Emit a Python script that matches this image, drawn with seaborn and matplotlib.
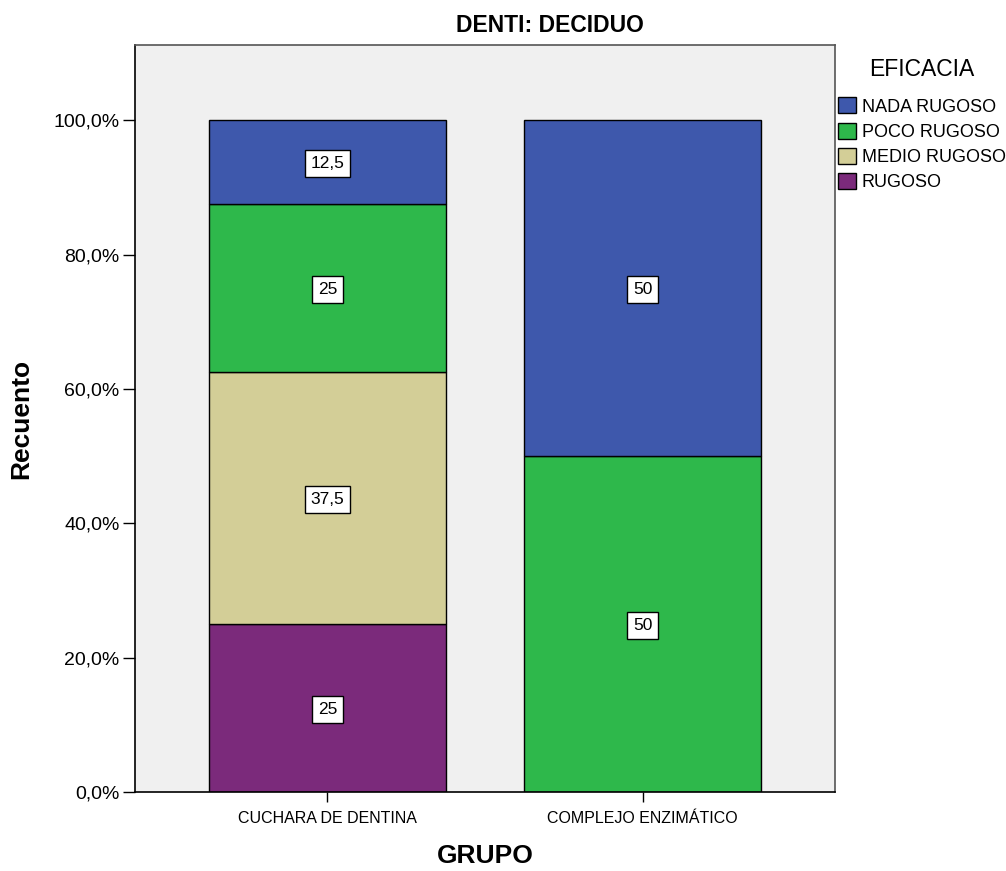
import matplotlib
matplotlib.use("Agg")
import matplotlib.pyplot as plt
import seaborn as sns
import pandas as pd

# Groups, efficacy levels and the share (%) of each level within a group
grupos = ["CUCHARA DE DENTINA", "COMPLEJO ENZIMÁTICO"]
niveles = ["NADA RUGOSO", "POCO RUGOSO", "MEDIO RUGOSO", "RUGOSO"]
cuchara = [12.5, 25, 37.5, 25]
complejo = [50, 50, 0, 0]
colores = ["#3E58AC", "#2EB84B", "#D3CE97", "#7B2A7B"]
y_ticks = [0, 20, 40, 60, 80, 100]

sns.set_style("ticks")
plt.rcParams["font.family"] = ["Liberation Sans", "DejaVu Sans"]
plt.rcParams.update({
    "text.color": "black", "axes.labelcolor": "black",
    "xtick.color": "black", "ytick.color": "black",
})

rows = []
for grupo, valores in zip(grupos, [cuchara, complejo]):
    for nivel, v in zip(niveles, valores):
        if v > 0:
            rows.append({"GRUPO": grupo, "EFICACIA": nivel, "pct": v})
df = pd.DataFrame(rows)
df["GRUPO"] = pd.Categorical(df["GRUPO"], categories=grupos)

fig = plt.figure(figsize=(10.06, 8.71), dpi=100)
ax = fig.add_axes([135 / 1006, 1 - 792 / 871, 700 / 1006, 747 / 871])
ax.set_facecolor("#F0F0F0")

sns.histplot(
    data=df, x="GRUPO", weights="pct", hue="EFICACIA", hue_order=niveles,
    palette=dict(zip(niveles, colores)), multiple="stack", discrete=True,
    shrink=0.752, edgecolor="black", linewidth=1.0, alpha=1, ax=ax,
)

# Value boxes centred in each stacked segment (bottom level first)
for i, valores in enumerate([cuchara, complejo]):
    base = 0.0
    for v in reversed(valores):
        if v > 0:
            txt = f"{v:g}".replace(".", ",")
            ax.text(i, base + v / 2, txt, ha="center", va="center_baseline",
                    fontsize=12.5,
                    bbox=dict(boxstyle="square,pad=0.34", fc="white", ec="black", lw=1.0))
        base += v

ax.set_xlim(-0.61, 1.61)
ax.set_ylim(0, 111.2)
ax.set_xticks(range(len(grupos)))
ax.set_xticklabels(grupos, fontsize=11.5)
ax.set_yticks(y_ticks)
ax.set_yticklabels([f"{t:.1f}%".replace(".", ",") for t in y_ticks], fontsize=14)
ax.tick_params(axis="x", length=7, width=1, pad=6.5)
ax.tick_params(axis="y", length=9, width=1, pad=2)

for side in ["left", "bottom"]:
    ax.spines[side].set_color("black")
    ax.spines[side].set_linewidth(1.2)
for side in ["top", "right"]:
    ax.spines[side].set_visible(True)
    ax.spines[side].set_color("#555555")
    ax.spines[side].set_linewidth(1.2)

ax.set_xlabel("GRUPO", fontsize=19, fontweight="bold", labelpad=13)
ax.set_ylabel("Recuento", fontsize=19, fontweight="bold", labelpad=15)
fig.text(550 / 1006, 1 - 26 / 871, "DENTI: DECIDUO", ha="center", va="center",
         fontsize=16.5, fontweight="bold")

sns.move_legend(
    ax, "upper left", bbox_to_anchor=(1.004, 0.930), frameon=False,
    title=None, fontsize=13,
    handlelength=1.0, handleheight=1.0, handletextpad=0.33,
    labelspacing=0.39, borderpad=0, borderaxespad=0,
)
fig.text(922 / 1006, 1 - 70 / 871, "EFICACIA", ha="center", va="center",
         fontsize=16.5)

fig.savefig("out.png", dpi=100)
